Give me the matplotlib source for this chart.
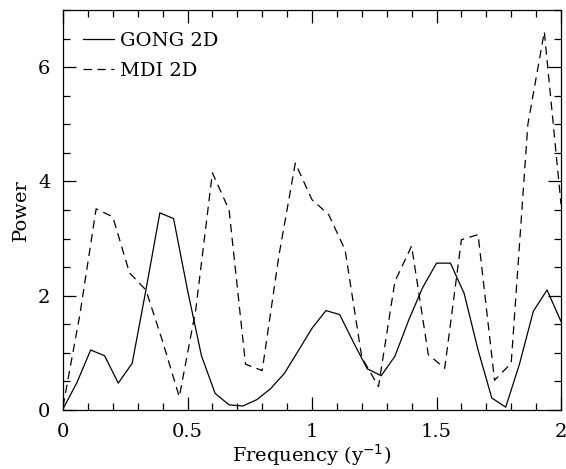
import matplotlib
matplotlib.use("Agg")
import matplotlib.pyplot as plt
from matplotlib.ticker import MultipleLocator

# ---- data ----
freq_gong = [0.000, 0.056, 0.111, 0.167, 0.222, 0.278, 0.333, 0.389, 0.444, 0.500,
             0.556, 0.611, 0.667, 0.722, 0.778, 0.833, 0.889, 0.944, 1.000, 1.056,
             1.111, 1.167, 1.222, 1.278, 1.333, 1.389, 1.444, 1.500, 1.556, 1.611,
             1.667, 1.722, 1.778, 1.833, 1.889, 1.944, 2.000]
power_gong = [0.02, 0.48, 1.05, 0.95, 0.47, 0.82, 2.10, 3.45, 3.35, 2.10,
              0.95, 0.29, 0.09, 0.07, 0.18, 0.37, 0.64, 1.03, 1.43, 1.74,
              1.67, 1.18, 0.72, 0.60, 0.94, 1.58, 2.14, 2.57, 2.57, 2.04,
              1.05, 0.21, 0.05, 0.80, 1.73, 2.10, 1.55]

freq_mdi = [0.000, 0.067, 0.133, 0.200, 0.267, 0.333, 0.400, 0.467, 0.533, 0.600,
            0.667, 0.733, 0.800, 0.867, 0.933, 1.000, 1.067, 1.133, 1.200, 1.267,
            1.333, 1.400, 1.467, 1.533, 1.600, 1.667, 1.733, 1.800, 1.867, 1.933,
            2.000]
power_mdi = [0.06, 1.65, 3.52, 3.38, 2.40, 2.10, 1.20, 0.23, 1.75, 4.15,
             3.50, 0.80, 0.69, 2.70, 4.32, 3.68, 3.42, 2.80, 0.92, 0.41,
             2.25, 2.87, 0.97, 0.73, 2.98, 3.07, 0.52, 0.82, 5.00, 6.62,
             3.60]

labels = ["GONG 2D", "MDI 2D"]
xticks = [0, 0.5, 1, 1.5, 2]
xticklabels = ["0", "0.5", "1", "1.5", "2"]
yticks = [0, 2, 4, 6]
yticklabels = ["0", "2", "4", "6"]

# ---- style ----
plt.rcParams["font.family"] = ["DejaVu Serif"]
plt.rcParams["lines.scale_dashes"] = False

fig = plt.figure(figsize=(5.66, 4.69), dpi=100)
ax = fig.add_axes([63 / 566, 59 / 469, 498 / 566, 400 / 469])

ax.plot(freq_gong, power_gong, color="black", lw=0.9, ls="-", label=labels[0])
ax.plot(freq_mdi, power_mdi, color="black", lw=0.9, ls=(0, (6, 4)), label=labels[1])

ax.set_xlim(0, 2)
ax.set_ylim(0, 7)
ax.set_xticks(xticks)
ax.set_xticklabels(xticklabels)
ax.set_yticks(yticks)
ax.set_yticklabels(yticklabels)
ax.xaxis.set_minor_locator(MultipleLocator(0.1))
ax.yaxis.set_minor_locator(MultipleLocator(0.5))
ax.tick_params(which="both", direction="in", top=True, right=True,
               width=0.9, colors="black", labelsize=14)
ax.tick_params(which="major", length=9.5, pad=9)
ax.tick_params(which="minor", length=5)
for s in ax.spines.values():
    s.set_linewidth(0.9)

ax.set_xlabel("Frequency (y$^{-1}$)", fontsize=14, labelpad=1.5)
ax.set_ylabel("Power", fontsize=14, labelpad=6)

leg = ax.legend(loc="upper left", bbox_to_anchor=(0.04, 0.945), frameon=False,
                fontsize=14, handlelength=1.6, handletextpad=0.3,
                borderaxespad=0, borderpad=0, labelspacing=0.6)

fig.savefig("out.png", dpi=100)
